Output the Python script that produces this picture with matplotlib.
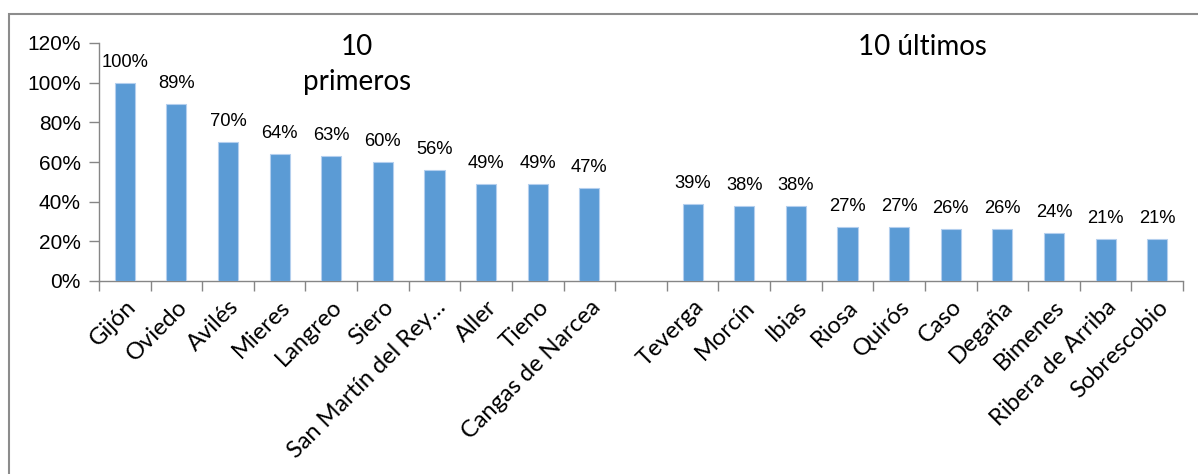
import matplotlib
matplotlib.use("Agg")
import matplotlib.pyplot as plt
from matplotlib.patches import Rectangle
from matplotlib.ticker import FuncFormatter

categories = ["Gijón", "Oviedo", "Avilés", "Mieres", "Langreo", "Siero",
              "San Martín del Rey…", "Aller", "Tieno", "Cangas de Narcea", "",
              "Teverga", "Morcín", "Ibias", "Riosa", "Quirós", "Caso",
              "Degaña", "Bimenes", "Ribera de Arriba", "Sobrescobio"]
values = [100, 89, 70, 64, 63, 60, 56, 49, 49, 47, None,
          39, 38, 38, 27, 27, 26, 26, 24, 21, 21]
yticks = [0, 20, 40, 60, 80, 100, 120]

W, H = 1198, 474
fig = plt.figure(figsize=(W / 100, H / 100), dpi=100)
ax = fig.add_axes([99 / W, (H - 281) / H, (1183 - 99) / W, (281 - 43) / H])

xs = [i for i, v in enumerate(values) if v is not None]
vs = [v for v in values if v is not None]
ax.bar(xs, vs, width=0.39, color="#5B9BD5", edgecolor="#B4CFEE", linewidth=0.8, zorder=3)

for x, v in zip(xs, vs):
    ax.annotate(f"{v}%", (x, v), xytext=(0, 14.8), textcoords="offset points",
                ha="center", va="center", fontsize=13.2, family="Liberation Sans",
                color="black")

n = len(categories)
ax.set_xlim(-0.5, n - 0.5)
ax.set_ylim(0, 120)
ax.set_yticks(yticks)
ax.yaxis.set_major_formatter(FuncFormatter(lambda v, p: f"{int(v)}%"))
for lab in ax.get_yticklabels():
    lab.set_family("Liberation Sans")
    lab.set_fontsize(15)

# category tick labels at centers, tick marks at boundaries
ax.set_xticks(range(n))
ax.set_xticklabels(categories, rotation=45, ha="right", rotation_mode="anchor",
                   fontsize=17, family="Lato")
ax.tick_params(axis="x", which="major", length=0, pad=11)
ax.set_xticks([i - 0.5 for i in range(n + 1)], minor=True)
ax.tick_params(axis="x", which="minor", length=7, width=1, color="#868686", direction="out")
ax.tick_params(axis="y", length=7, width=1, color="#868686", direction="out", pad=6)

for s in ["top", "right"]:
    ax.spines[s].set_visible(False)
for s in ["left", "bottom"]:
    ax.spines[s].set_color("#868686")
    ax.spines[s].set_linewidth(1)

fig.text(357 / W, 1 - 47 / H, "10", ha="center", va="center", fontsize=20, family="Lato")
fig.text(357 / W, 1 - 82 / H, "primeros", ha="center", va="center", fontsize=20, family="Lato")
fig.text(922 / W, 1 - 47 / H, "10 últimos", ha="center", va="center", fontsize=20, family="Lato")

fig.add_artist(Rectangle((8.5 / W, -0.1), 1.2, 1 - 13.5 / H + 0.1, transform=fig.transFigure,
                         fill=False, edgecolor="#8c8c8c", linewidth=1.5))

fig.savefig("out.png", dpi=100)
